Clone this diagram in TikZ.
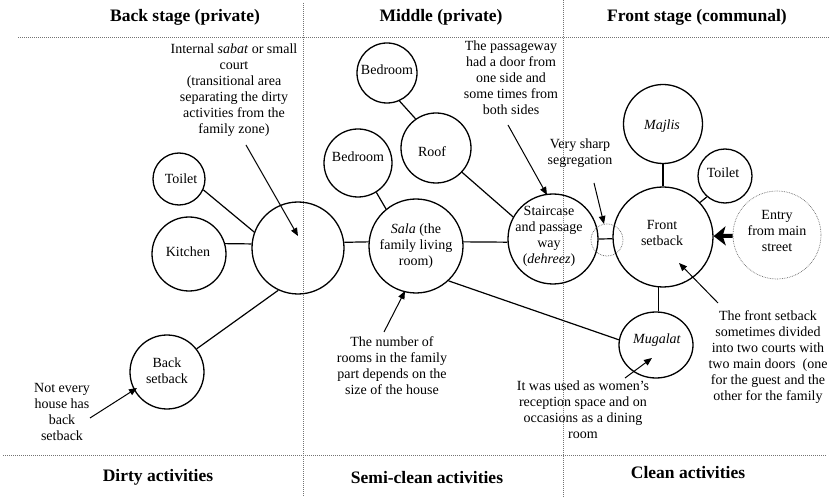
\documentclass[tikz,border=0pt]{standalone}
\usepackage{fontspec}
\setmainfont{Liberation Serif}
\usetikzlibrary{arrows.meta,shapes.geometric}
\begin{document}
\begin{tikzpicture}[x=1pt,y=-1pt,
  room/.style={circle, draw, line width=1.3pt, inner sep=0pt, minimum size=#1},
  dotroom/.style={circle, draw=black!60, densely dotted, line width=0.7pt, inner sep=0pt, minimum size=#1},
  rtext/.style={align=center, font=\fontsize{14}{16}\selectfont, inner sep=0pt},
  note/.style={align=center, font=\fontsize{14}{16}\selectfont, inner sep=0pt},
  head/.style={font=\fontsize{17.5}{20}\selectfont\bfseries, inner sep=0pt},
  link/.style={line width=1.2pt},
  pointer/.style={line width=1pt, -{Triangle[length=8pt,width=6.5pt]}},
  bigarrow/.style={line width=4pt, -{Stealth[length=12pt,width=19pt,inset=3pt]}},
  divider/.style={line width=0.6pt, black!55, dash pattern=on 1pt off 1pt},
]
\useasboundingbox (0,0) rectangle (831,497);
\fill[white] (0,0) rectangle (831,497);

% zone dividers
\draw[divider] (18,37) -- (829,37);
\draw[divider] (3,455) -- (826,455);
\draw[divider] (303,3) -- (303,497);
\draw[divider] (563,0) -- (563,497);

% zone headings
\node[head] (hback)  at (185,17) {Back stage (private)};
\node[head] (hmid)   at (441,17) {Middle (private)};
\node[head] (hfront) at (697,17) {Front stage (communal)};
\node[head] (fdirty) at (158,477) {Dirty activities};
\node[head] (fsemi)  at (427,478) {Semi-clean activities};
\node[head] (fclean) at (688,473) {Clean activities};

% rooms
\node[room=52pt] (toiletL) at (179,179) {};
\node[room=74pt] (kitchen) at (189,254) {};
\node[room=92pt] (sabat)   at (298,248) {};
\node[room=74pt] (backset) at (167,372) {};
\node[room=60pt] (bed1)    at (387,73) {};
\node[room=68pt] (bed2)    at (358,163) {};
\node[room=70pt] (roof)    at (436,148) {};
\node[room=94pt] (sala)    at (416,246) {};
\node[room=90pt] (stair)   at (553,239) {};
\node[dotroom=32pt] (sharp) at (607,240) {};
\node[room=100pt] (front)  at (663,237) {};
\node[room=79pt] (majlis)  at (663,124) {};
\node[room=54pt] (toiletR) at (725,176) {};
\node[dotroom=88pt] (entry) at (777,235) {};
\node[ellipse, draw, line width=1.3pt, inner sep=0pt, minimum width=74pt, minimum height=66pt] (mugalat) at (656,345) {};

% room names
\node[rtext] (toiletLt) at (181,179) {Toilet};
\node[rtext] (kitchent) at (188,252) {Kitchen};
\node[rtext] (backsett) at (167,371) {Back\\setback};
\node[rtext] (bed1t)    at (387,70) {Bedroom};
\node[rtext] (bed2t)    at (358,157) {Bedroom};
\node[rtext] (rooft)    at (432,152) {Roof};
\node[rtext] (salat)    at (416,246) {\textit{Sala} (the\\family living\\room)};
\node[rtext] (stairt)   at (549,236) {Staircase\\and passage\\way\\(\textit{dehreez})};
\node[rtext] (frontt)   at (662,233) {Front\\setback};
\node[rtext] (majlist)  at (662,126) {\textit{Majlis}};
\node[rtext] (toiletRt) at (723,173) {Toilet};
\node[rtext] (entryt)   at (777,231) {Entry\\from main\\street};
\node[rtext] (mugalatt) at (657,340) {\textit{Mugalat}};

% links between rooms
\draw[link] (toiletL.-24) -- (sabat.160);
\draw[link] (kitchen.16) -- (sabat.175);
\draw[link] (sabat.245) -- (backset.38);
\draw[link] (sabat.7) -- (sala.175);
\draw[link] (bed2.-58) -- (sala.129);
\draw[link] (bed1.-66) -- (roof.125);
\draw[link] (roof.-43) -- (stair.151);
\draw[link] (sala.5) -- (stair.184);
\draw[link] (sala.-47) -- (mugalat.172);
\draw[link] (stair.0) -- (front.182);
\draw[link] (majlis.south) -- (majlis.south |- front.north);
\draw[link] (toiletR.229) -- (front.43);
\draw[link] (front.265) -- (front.265 |- mugalat.north);
\draw[bigarrow] (entry) -- (front);

% notes
\node[note] (nsabat) at (234,90) {Internal \textit{sabat} or small\\court\hspace*{26pt}\\ (transitional area\\separating the dirty\\activities from the\\family zone)};
\node[note] (npass) at (511,78) {The passageway\\had a door from\\one side and\\some times from\\both sides};
\node[note] (nsharp) at (580,153) {Very sharp\\segregation};
\node[note] (nrooms) at (392,366) {The number of\\rooms in the family\\part depends on the\\size of the house};
\node[note] (nback) at (62,412) {Not every\\house has\\back\\setback};
\node[note] (nmug) at (583,410) {It was used as women’s\\reception space and on\\occasions as a dining\\room};
\node[note] (nfront) at (768,357) {The front setback\\sometimes divided\\into two courts with\\two main doors\ \ (one\\for the guest and the\\other for the family};

% pointer ends
\coordinate (psabat0) at (246,145);  \coordinate (psabat1) at (298,236);
\coordinate (ppass0) at (508,125);   \coordinate (ppass1) at (547,195);
\coordinate (psharp0) at (594,183);  \coordinate (psharp1) at (604,224);
\coordinate (prooms0) at (384,332);  \coordinate (prooms1) at (405,291);
\coordinate (pback0) at (90,418);    \coordinate (pback1) at (137,388);
\coordinate (pmug0) at (625,378);    \coordinate (pmug1) at (652,358);
\coordinate (pfront0) at (718,303);  \coordinate (pfront1) at (679,263);

\draw[pointer] (psabat0) -- (psabat1);
\draw[pointer] (ppass0) -- (ppass1);
\draw[pointer] (psharp0) -- (psharp1);
\draw[pointer] (prooms0) -- (prooms1);
\draw[pointer] (pback0) -- (pback1);
\draw[pointer] (pmug0) -- (pmug1);
\draw[pointer] (pfront0) -- (pfront1);
\end{tikzpicture}
\end{document}
